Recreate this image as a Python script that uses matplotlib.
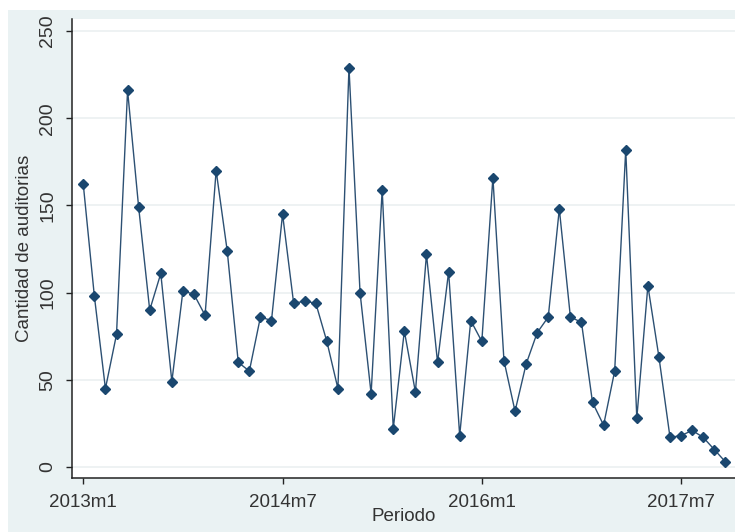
import matplotlib
matplotlib.use("Agg")
import matplotlib.pyplot as plt
from matplotlib.patches import Rectangle

# Monthly audit counts, 2013m1 .. 2017m11
auditorias = [162, 98, 45, 76, 216, 149, 90, 111, 49, 101, 99, 87,
              170, 124, 60, 55, 86, 84, 145, 94, 95, 94, 72, 45,
              229, 100, 42, 159, 22, 78, 43, 122, 60, 112, 18, 84,
              72, 166, 61, 32, 59, 77, 86, 148, 86, 83, 37, 24,
              55, 182, 28, 104, 63, 17, 18, 21, 17, 10, 3]
periodo = list(range(len(auditorias)))

x_tick_pos = [0, 18, 36, 54]
x_tick_labels = ["2013m1", "2014m7", "2016m1", "2017m7"]
y_ticks = [0, 50, 100, 150, 200, 250]

W, H = 735, 532
navy = "#1A476F"
line_col = "#2C5073"
bg = "#EAF2F3"
txt = "#333333"

fig = plt.figure(figsize=(W / 100, H / 100), dpi=100)
fig.patch.set_facecolor("white")
fig.patches.append(Rectangle((8 / W, 0), 1 - 8 / W, 1 - 10 / H,
                             transform=fig.transFigure, facecolor=bg,
                             edgecolor="none", zorder=-10))

ax = fig.add_axes([72 / W, 1 - 478 / H, (W - 72) / W, (478 - 19) / H])
ax.set_facecolor("white")

ax.plot(periodo, auditorias, color=line_col, linewidth=1.0, zorder=3)
ax.plot(periodo, auditorias, linestyle="none", marker="D", markersize=5.5,
        markerfacecolor=navy, markeredgecolor=navy, zorder=4)

ax.set_xlim(-1.02, 58.87)
ax.set_ylim(-6.3, 256.9)

ax.set_yticks(y_ticks)
ax.set_yticklabels([str(v) for v in y_ticks], rotation=90, va="center",
                   family=["Liberation Sans Narrow", "Liberation Sans"],
                   fontsize=14, color=txt)
ax.set_xticks(x_tick_pos)
ax.set_xticklabels(x_tick_labels, family="Liberation Sans", fontsize=13.5,
                   color=txt)

ax.tick_params(axis="both", length=4.5, width=1.0, color="#222222")
ax.tick_params(axis="x", pad=7)
ax.tick_params(axis="y", pad=7)

ax.grid(axis="y", color="#EEF2F3", linewidth=1.4, zorder=0)
ax.set_axisbelow(True)

for side in ["top", "right"]:
    ax.spines[side].set_visible(False)
for side in ["left", "bottom"]:
    ax.spines[side].set_color("#222222")
    ax.spines[side].set_linewidth(1.1)

ax.set_ylabel("Cantidad de auditorias", family="Liberation Sans",
              fontsize=13.5, color=txt, labelpad=4)
ax.set_xlabel("Periodo", family="Liberation Sans", fontsize=13.5,
              color=txt, labelpad=-2)

fig.savefig("out.png", dpi=100, facecolor=fig.get_facecolor())
